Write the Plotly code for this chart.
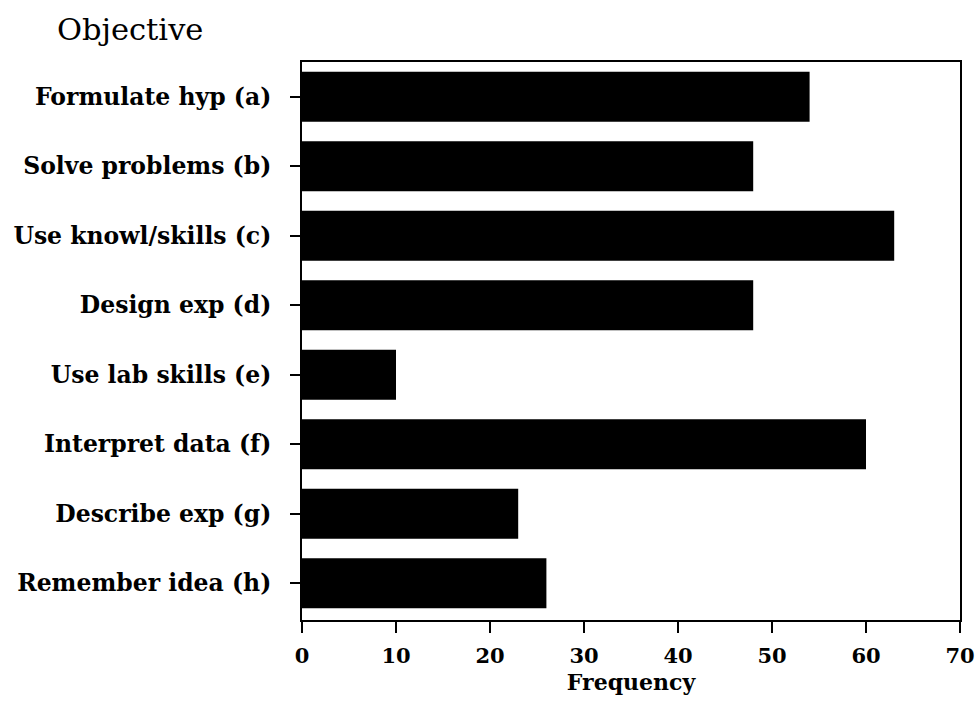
import plotly.graph_objects as go

categories = ["Formulate hyp (a)", "Solve problems (b)", "Use knowl/skills (c)",
              "Design exp (d)", "Use lab skills (e)", "Interpret data (f)",
              "Describe exp (g)", "Remember idea (h)"]
frequency = [54, 48, 63, 48, 10, 60, 23, 26]
x_ticks = [0, 10, 20, 30, 40, 50, 60, 70]

FONT = "DejaVu Serif"
W, H = 977, 703

fig = go.Figure(go.Bar(
    x=frequency, y=categories, orientation="h",
    marker=dict(color="black", line=dict(width=0)),
    width=0.72,
))

fig.update_layout(
    width=W, height=H,
    margin=dict(l=302, r=17, t=62, b=83),
    paper_bgcolor="white", plot_bgcolor="white",
    font=dict(family=FONT, color="black", size=22, weight="bold"),
    showlegend=False,
    title=dict(text="Objective", xref="container", yref="container",
               x=57/W, xanchor="left", y=1-29/H, yanchor="middle",
               font=dict(family=FONT, size=30.5, color="black", weight="normal")),
)
fig.update_xaxes(
    range=[0, 70], tickvals=x_ticks, ticktext=[str(v) for v in x_ticks],
    showgrid=False, zeroline=False, automargin=False,
    showline=True, linecolor="black", linewidth=2, mirror=True,
    ticks="outside", ticklen=11, tickwidth=2, tickcolor="black",
    ticklabelstandoff=5,
    title=dict(text="Frequency", font=dict(family=FONT, size=22, weight="bold"), standoff=7),
    tickfont=dict(family=FONT, size=21, weight="bold"),
)
fig.update_yaxes(
    range=[7.53, -0.5], categoryorder="array", categoryarray=categories,
    showgrid=False, zeroline=False, automargin=False,
    showline=True, linecolor="black", linewidth=2, mirror=True,
    ticks="outside", ticklen=10, tickwidth=2, tickcolor="black",
    ticklabelstandoff=14,
    tickfont=dict(family=FONT, size=23.5, weight="bold"),
)

fig.write_html("out.html", config={"displayModeBar": False},
               post_script="document.body.style.margin='0';document.body.style.overflow='hidden';")
